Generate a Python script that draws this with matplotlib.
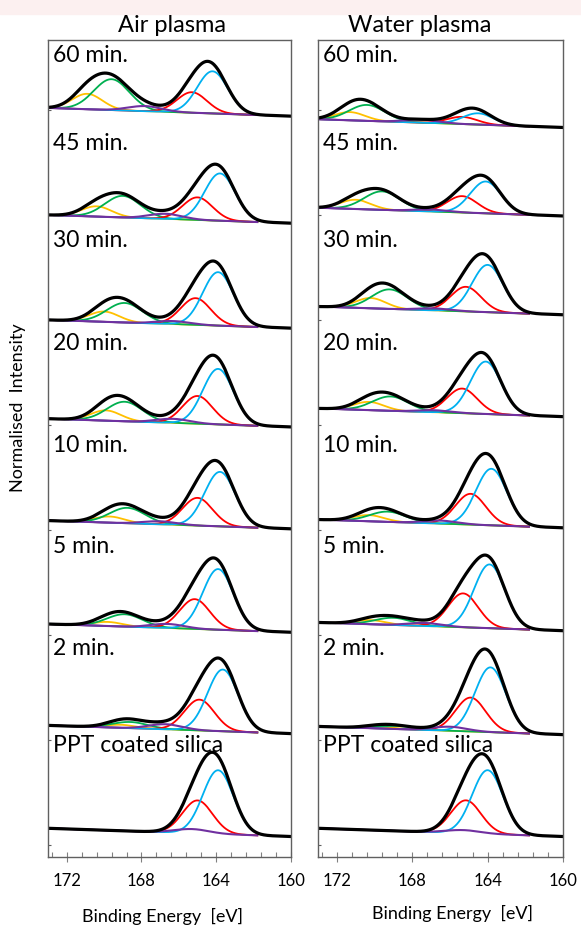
import numpy as np
import matplotlib.pyplot as plt
from matplotlib.ticker import MultipleLocator
from matplotlib.patches import Rectangle

plt.rcParams['font.family'] = ['Lato', 'DejaVu Sans']

# %% data (top spectrum first)
labels = ['60 min.', '45 min.', '30 min.', '20 min.', '10 min.', '5 min.', '2 min.', 'PPT coated silica']

# Air plasma: baseline level at 173 eV and fitted S 2p components (centre eV, height)
air_base = [7.00, 5.96, 4.94, 3.98, 2.99, 1.985, 1.00, 0.00]
air_blue_c = [164.2, 163.8, 163.9, 163.9, 163.8, 163.9, 163.65, 163.9]
air_blue_h = [0.41, 0.46, 0.52, 0.54, 0.53, 0.59, 0.60, 0.62]
air_red_c = [165.3, 165.0, 165.1, 165.0, 165.0, 165.15, 164.9, 165.0]
air_red_h = [0.20, 0.22, 0.26, 0.27, 0.27, 0.29, 0.30, 0.32]
air_purple_c = [167.8, 166.7, 166.3, 166.3, 167.0, 166.6, 166.7, 165.3]
air_purple_h = [0.05, 0.05, 0.03, 0.04, 0.03, 0.04, 0.05, 0.04]
air_green_c = [169.6, 169.0, 168.9, 168.9, 168.75, 168.9, 168.6, 168.6]
air_green_h = [0.30, 0.21, 0.19, 0.19, 0.15, 0.12, 0.06, 0.0]
air_orange_c = [170.9, 170.4, 170.0, 169.9, 169.7, 169.8, 169.1, 169.1]
air_orange_h = [0.15, 0.10, 0.10, 0.10, 0.06, 0.04, 0.03, 0.0]

# Water plasma
water_base = [6.89, 6.03, 5.07, 4.08, 3.00, 2.00, 0.99, 0.00]
water_blue_c = [164.5, 164.1, 164.0, 164.1, 163.8, 163.9, 163.85, 164.0]
water_blue_h = [0.11, 0.31, 0.46, 0.51, 0.55, 0.62, 0.63, 0.62]
water_red_c = [165.35, 165.35, 165.15, 165.35, 164.9, 165.3, 164.9, 165.15]
water_red_h = [0.07, 0.16, 0.24, 0.24, 0.30, 0.33, 0.33, 0.32]
water_purple_c = [167.5, 167.0, 166.8, 166.8, 166.5, 167.3, 166.0, 165.3]
water_purple_h = [0.03, 0.02, 0.02, 0.02, 0.03, 0.03, 0.04, 0.03]
water_green_c = [170.4, 169.6, 169.2, 169.15, 169.3, 169.0, 168.8, 168.8]
water_green_h = [0.155, 0.18, 0.19, 0.14, 0.10, 0.07, 0.03, 0.0]
water_orange_c = [171.3, 171.0, 170.2, 170.3, 170.3, 170.2, 169.8, 169.8]
water_orange_h = [0.08, 0.09, 0.10, 0.08, 0.06, 0.04, 0.02, 0.0]

# %% style
widths = {'orange': 0.8, 'green': 0.95, 'red': 0.8, 'blue': 0.82, 'purple': 0.9}
colors = {'orange': '#FFC000', 'green': '#00B050', 'red': '#FF0000',
          'blue': '#00B0F0', 'purple': '#7030A0'}
label_y = [7.447, 6.592, 5.65, 4.65, 3.657, 2.675, 1.686, 0.744]
drop = 0.08

E = np.linspace(160, 173, 700)
fit = (E > 161.8) & (E < 172.9)


def gauss(e, c, h, w):
    return h * np.exp(-(e - c) ** 2 / (2 * w ** 2))


def draw_panel(ax, base, comps):
    for i in range(len(labels)):
        bg = base[i] - drop * (173 - E) / 13
        total = bg.copy()
        for name in ['orange', 'green', 'red', 'blue']:
            c, h = comps[name][0][i], comps[name][1][i]
            g = gauss(E, c, h, widths[name])
            total += g
            if h > 0:
                ax.plot(E[fit], (bg + g)[fit], color=colors[name], lw=1.3)
        pb = gauss(E, comps['purple'][0][i], comps['purple'][1][i], widths['purple'])
        total += pb
        ax.plot(E[fit], (bg + pb)[fit], color=colors['purple'], lw=1.5)
        ax.plot(E, total, color='black', lw=2.3)
        ax.text(172.75, label_y[i], labels[i], fontsize=16.5, va='baseline', ha='left')

    ax.set_xlim(173, 160)
    ax.set_ylim(-0.279, 7.66)
    ax.xaxis.set_major_locator(MultipleLocator(4))
    ax.xaxis.set_minor_locator(MultipleLocator(0.8))
    ax.set_yticks(np.arange(-0.16, 7.6, 1.02))
    ax.set_yticklabels([])
    ax.tick_params(axis='x', which='major', direction='inout', length=7, width=0.8,
                   color='#808080', labelsize=12, pad=8)
    ax.tick_params(axis='x', which='minor', direction='in', length=3.5, width=0.8, color='#808080')
    ax.tick_params(axis='y', direction='in', length=2.5, width=0.8, color='#606060')
    for s in ax.spines.values():
        s.set_color('#606060')
        s.set_linewidth(1.0)


fig = plt.figure(figsize=(5.81, 9.27), dpi=100)
fig.add_artist(Rectangle((0, 1 - 14 / 927), 1, 14 / 927, transform=fig.transFigure,
                         color='#fcf0f0', zorder=0))

ax1 = fig.add_axes([48 / 581, 70 / 927, 243 / 581, 817 / 927])
ax2 = fig.add_axes([318 / 581, 70 / 927, 245 / 581, 817 / 927])

draw_panel(ax1, air_base, {
    'blue': (air_blue_c, air_blue_h), 'red': (air_red_c, air_red_h),
    'purple': (air_purple_c, air_purple_h), 'green': (air_green_c, air_green_h),
    'orange': (air_orange_c, air_orange_h)})
draw_panel(ax2, water_base, {
    'blue': (water_blue_c, water_blue_h), 'red': (water_red_c, water_red_h),
    'purple': (water_purple_c, water_purple_h), 'green': (water_green_c, water_green_h),
    'orange': (water_orange_c, water_orange_h)})

fig.text(172 / 581, 1 - 26 / 927, 'Air plasma', fontsize=17, ha='center', va='center')
fig.text(420 / 581, 1 - 26 / 927, 'Water plasma', fontsize=17, ha='center', va='center')
fig.text(163 / 581, 1 - 916 / 927, 'Binding Energy  [eV]', fontsize=13, ha='center', va='center')
fig.text(453 / 581, 1 - 913 / 927, 'Binding Energy  [eV]', fontsize=13, ha='center', va='center')
fig.text(18 / 581, 1 - 408 / 927, 'Normalised  Intensity', fontsize=13, rotation=90,
         ha='center', va='center')

fig.savefig('out.png', dpi=100)
